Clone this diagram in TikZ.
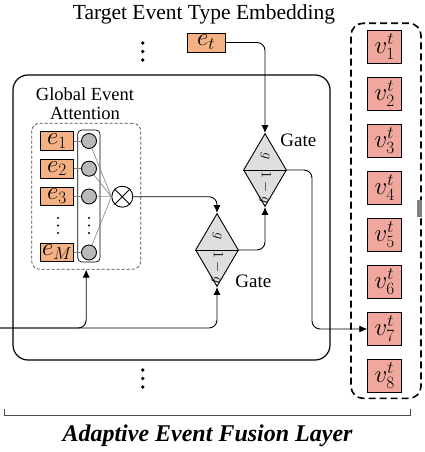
\documentclass[tikz,border=0pt]{standalone}
\usepackage[no-math]{fontspec}
\setmainfont{Liberation Serif}
\usetikzlibrary{shapes.geometric,arrows.meta}
\definecolor{embOrange}{RGB}{244,177,131}
\definecolor{vecPink}{RGB}{240,168,158}
\definecolor{gateGray}{RGB}{222,222,222}

\begin{document}
\begin{tikzpicture}[x=1pt,y=-1pt,line width=0.9pt,
    embox/.style={draw,fill=embOrange,inner sep=0pt,minimum width=33pt,minimum height=18.5pt,font=\fontsize{24}{24}\selectfont},
    vbox/.style={draw,fill=vecPink,inner sep=0pt,minimum width=34pt,minimum height=33pt,font=\fontsize{24}{24}\selectfont},
    neuron/.style={circle,draw,fill=gray!55,inner sep=0pt,minimum size=15pt},
    gatebox/.style={diamond,draw,fill=gateGray,inner sep=0pt,minimum width=43pt,minimum height=73pt},
    gatelbl/.style={rotate=-90,inner sep=0pt,font=\fontsize{14}{14}\selectfont},
    lbl/.style={inner sep=0pt,font=\fontsize{19}{19}\selectfont},
    thin gray/.style={draw=gray,line width=0.6pt},
    conn/.style={-{Latex[length=8pt,width=7pt]},rounded corners=8pt}]
    \useasboundingbox (0,0) rectangle (424,452);

    % basics
    \node[lbl,anchor=base,font=\fontsize{21.5}{21.5}\selectfont] (title) at (204,19.3) {Target Event Type Embedding};
    \node[embox,minimum width=38pt,minimum height=19pt] (et) at (206,42.5) {$e_t$};
    \node[draw,rounded corners=15pt,line width=1.2pt,minimum width=317pt,minimum height=285pt] (layer) at (171.5,217.5) {};
    \foreach \y in {43,51.5,60,370,378.5,387}
        \fill (142.7,\y) circle (1.9pt);

    % global event attention
    \node[lbl,align=center,anchor=north,font=\fontsize{18.5}{18.3}\selectfont] (attnlbl) at (85,87.5) {Global Event\\Attention};
    \node[draw=black!75,dash pattern=on 3pt off 2pt,line width=0.7pt,rounded corners=8pt,minimum width=109pt,minimum height=146pt] (attn) at (86.2,196.2) {};
    \node[draw,rounded corners=4pt,line width=0.7pt,minimum width=22.3pt,minimum height=132pt] (ncol) at (88.9,196) {};
    \foreach \i/\y in {1/141,2/168.7,3/196.5,M/252.5} {
        \node[embox] (e\i) at (57,\y) {$e_{\i}$};
        \node[neuron] (n\i) at (89,\y) {};
    }
    \foreach \y in {218,225.5,233}
        \fill (58,\y) circle (1.2pt) (89,\y) circle (1.2pt);
    \node[circle,draw,fill=white,minimum size=21pt,inner sep=0pt] (otimes) at (122.3,196.7) {};
    \draw (otimes.north west) -- (otimes.south east) (otimes.north east) -- (otimes.south west);
    \foreach \i in {1,2,3,M} {
        \draw[thin gray] (e\i) -- (n\i);
        \draw[thin gray] (n\i) -- (otimes.west);
    }

    % gates
    \node[gatebox] (g1) at (217,250) {};
    \node[gatebox] (g2) at (265,170) {};
    \draw (g1.west) -- (g1.east) (g2.west) -- (g2.east);
    \node[gatelbl] (g1a) at (217,236) {$g$};
    \node[gatelbl] (g1b) at (217,267.5) {$1-g$};
    \node[gatelbl] (g2a) at (265,156) {$g$};
    \node[gatelbl] (g2b) at (265,187.5) {$1-g$};
    \node[lbl,anchor=base west] (g2lbl) at (280,146) {Gate};
    \node[lbl,anchor=base west] (g1lbl) at (235,287.3) {Gate};

    % event type vectors
    \node[draw,dash pattern=on 7pt off 4pt,line width=1.6pt,rounded corners=12pt,minimum width=70pt,minimum height=375pt] (vcol) at (386,210.8) {};
    \foreach \i in {1,...,8}
        \node[vbox] (v\i) at (384.7,{47+47*(\i-1)}) {$v^{t}_{\i}$};
    \fill[gray] (417,200) rectangle (422,217);

    % connectors
    \coordinate (in) at (0,328);
    \coordinate (turn) at (312,329);
    \draw[conn] (et) -| (g2);
    \draw[conn] (otimes) -| (g1);
    \draw[conn] (g1) -| (g2);
    \draw[conn] (g2) -| (turn) -- (v7);
    \draw[conn] (in) -| (attn);
    \draw[conn] (in) -| (g1);

    % layer name
    \draw[line width=0.8pt,black!70] (4,409) -- (4,415) -- (410,415) -- (410,409);
    \node[anchor=base,inner sep=0pt,font=\fontsize{24}{24}\selectfont\bfseries\itshape] (caption) at (207.5,441.7) {Adaptive Event Fusion Layer};
\end{tikzpicture}
\end{document}
